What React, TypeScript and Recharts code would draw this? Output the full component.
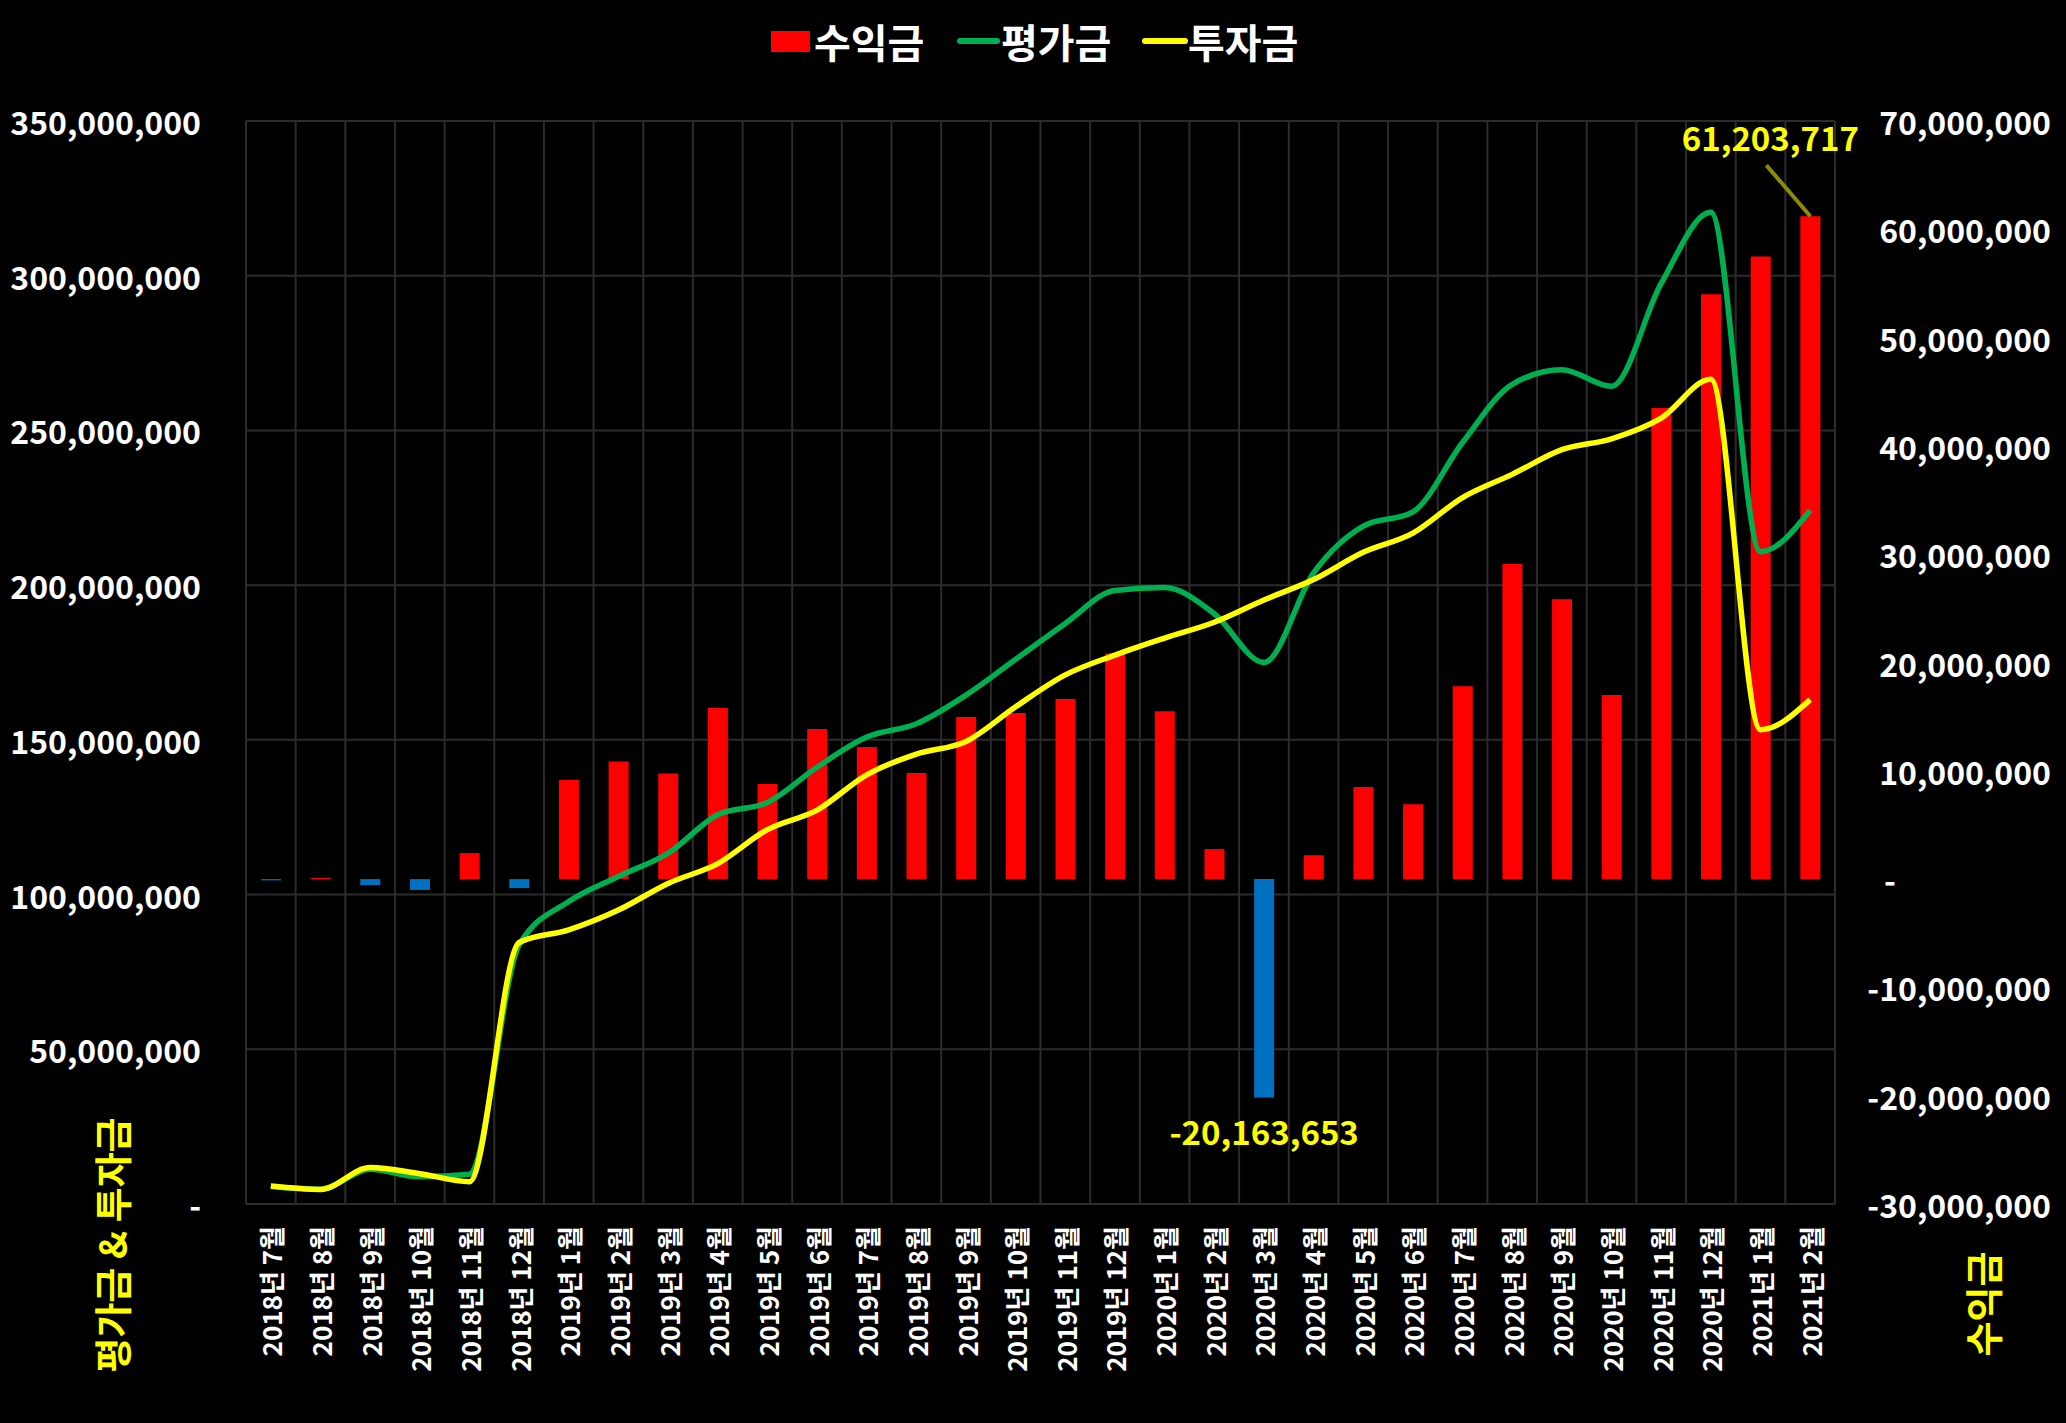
import { ComposedChart, Bar, Line, XAxis, YAxis, CartesianGrid, Cell, LabelList } from 'recharts'

const months = [
  '2018년 7월', '2018년 8월', '2018년 9월', '2018년 10월', '2018년 11월', '2018년 12월',
  '2019년 1월', '2019년 2월', '2019년 3월', '2019년 4월', '2019년 5월', '2019년 6월',
  '2019년 7월', '2019년 8월', '2019년 9월', '2019년 10월', '2019년 11월', '2019년 12월',
  '2020년 1월', '2020년 2월', '2020년 3월', '2020년 4월', '2020년 5월', '2020년 6월',
  '2020년 7월', '2020년 8월', '2020년 9월', '2020년 10월', '2020년 11월', '2020년 12월',
  '2021년 1월', '2021년 2월',
]

// 수익금 (right axis)
const profit = [
  -120000, 100000, -550000, -1000000, 2400000, -830000,
  9140000, 10850000, 9750000, 15800000, 8770000, 13850000,
  12190000, 9790000, 14960000, 15330000, 16620000, 20840000,
  15510000, 2770000, -20163653, 2200000, 8500000, 6900000,
  17800000, 29100000, 25850000, 16990000, 43500000, 54000000,
  57500000, 61203717,
]

// 평가금 (left axis)
const valuation = [
  5680000, 4800000, 11250000, 8800000, 9600000, 83670000,
  97740000, 105850000, 113350000, 125800000, 129770000, 141150000,
  150890000, 155190000, 164460000, 176030000, 187620000, 198300000,
  199200000, 190770000, 175036347, 204000000, 219100000, 223700000,
  246100000, 264900000, 269650000, 264290000, 297500000, 320500000,
  210800000, 224203717,
]

// 투자금 (left axis)
const invested = [
  5800000, 4700000, 11800000, 9800000, 7200000, 84500000,
  88600000, 95000000, 103600000, 110000000, 121000000, 127300000,
  138700000, 145400000, 149500000, 160700000, 171000000, 177400000,
  182900000, 188000000, 195200000, 201800000, 210600000, 216800000,
  228300000, 235800000, 243800000, 247300000, 254000000, 266500000,
  153300000, 163000000,
]

const leftTicks = [0, 50000000, 100000000, 150000000, 200000000, 250000000, 300000000, 350000000]
const rightTicks = [-30000000, -20000000, -10000000, 0, 10000000, 20000000, 30000000, 40000000, 50000000, 60000000, 70000000]

const data = months.map((month, i) => ({
  month,
  profit: profit[i],
  valuation: valuation[i],
  invested: invested[i],
}))

const maxIdx = profit.indexOf(Math.max(...profit))
const minIdx = profit.indexOf(Math.min(...profit))

const FONT = '"Noto Sans CJK KR", "Noto Sans", sans-serif'
const fmt = (v: number) => (v === 0 ? '-' : v.toLocaleString('en-US'))

function LeftTick({ x, y, payload }: any) {
  return (
    <text x={x} y={y} textAnchor="end" dominantBaseline="central"
      fill="#fff" fontSize={32} fontWeight={700} fontFamily={FONT}>
      {fmt(payload.value)}
    </text>
  )
}

function RightTick({ x, y, payload }: any) {
  const v = payload.value
  if (v === 0) {
    return (
      <text x={x + 5} y={y} textAnchor="start" dominantBaseline="central"
        fill="#fff" fontSize={32} fontWeight={700} fontFamily={FONT}>-</text>
    )
  }
  return (
    <text x={x + 172} y={y} textAnchor="end" dominantBaseline="central"
      fill="#fff" fontSize={32} fontWeight={700} fontFamily={FONT}>
      {fmt(v)}
    </text>
  )
}

function MonthTick({ x, y, payload }: any) {
  return (
    <text transform={`translate(${x},${y}) rotate(-90)`} textAnchor="end" dominantBaseline="central"
      fill="#fff" fontSize={26} fontWeight={700} fontFamily={FONT}>
      {payload.value}
    </text>
  )
}

function ProfitLabel(props: any) {
  const { x, y, width, height, index, value } = props
  if (index !== maxIdx && index !== minIdx) return null
  const cx = x + width / 2
  const top = Math.min(y, y + height)
  const bottom = Math.max(y, y + height)
  if (index === maxIdx) {
    return (
      <g>
        <line x1={cx} y1={top} x2={cx - 44} y2={top - 51} stroke="#8c8c00" strokeWidth={4} />
        <text x={cx - 40} y={top - 79} textAnchor="middle" dominantBaseline="central"
          fill="#ffff00" fontSize={33} fontWeight={700} fontFamily={FONT}>
          {fmt(value)}
        </text>
      </g>
    )
  }
  return (
    <text x={cx} y={bottom + 34} textAnchor="middle" dominantBaseline="central"
      fill="#ffff00" fontSize={33} fontWeight={700} fontFamily={FONT}>
      {fmt(value)}
    </text>
  )
}

const legendText = {
  position: 'absolute' as const, top: 17, color: '#fff', fontSize: 40, fontWeight: 700,
  fontFamily: FONT, lineHeight: '48px', whiteSpace: 'nowrap' as const,
}

const axisTitle = {
  position: 'absolute' as const, transform: 'translate(-50%,-50%) rotate(-90deg)',
  color: '#ffff00', fontSize: 38, fontWeight: 700, fontFamily: FONT, whiteSpace: 'nowrap' as const,
}

export default function App() {
  return (
    <div style={{ position: 'relative', width: 2066, height: 1423, background: '#000', overflow: 'hidden' }}>
      <style>{'body{margin:0;background:#000}'}</style>

      <span style={{ position: 'absolute', left: 771, top: 31, width: 39, height: 21, background: '#ff0000' }} />
      <span style={{ ...legendText, left: 814 }}>수익금</span>
      <span style={{ position: 'absolute', left: 957, top: 38, width: 43, height: 6, borderRadius: 3, background: '#00b050' }} />
      <span style={{ ...legendText, left: 1001 }}>평가금</span>
      <span style={{ position: 'absolute', left: 1142, top: 38, width: 46, height: 6, borderRadius: 3, background: '#ffff00' }} />
      <span style={{ ...legendText, left: 1188 }}>투자금</span>

      <ComposedChart width={2066} height={1423} data={data}
        margin={{ top: 121, right: 0, left: 0, bottom: 0 }}>
        <CartesianGrid yAxisId="left" stroke="#2c2c2c" strokeWidth={2}
          verticalCoordinatesGenerator={({ offset }: any) =>
            months.map((_, k) => offset.left + (k * offset.width) / months.length).concat(offset.left + offset.width)} />
        <XAxis dataKey="month" interval={0} height={219} tickSize={0} tickMargin={22}
          axisLine={false} tickLine={false} tick={<MonthTick />} />
        <YAxis yAxisId="left" orientation="left" width={246} domain={[0, 350000000]} ticks={leftTicks}
          tickSize={0} tickMargin={45} axisLine={false} tickLine={false} tick={<LeftTick />} />
        <YAxis yAxisId="right" orientation="right" width={231} domain={[-30000000, 70000000]} ticks={rightTicks}
          tickSize={0} tickMargin={44} axisLine={false} tickLine={false} tick={<RightTick />} />
        <Bar yAxisId="right" dataKey="profit" barSize={20} isAnimationActive={false}>
          {profit.map((v, i) => (
            <Cell key={i} fill={v >= 0 ? '#ff0000' : '#0070c0'} />
          ))}
          <LabelList dataKey="profit" content={<ProfitLabel />} />
        </Bar>
        <Line yAxisId="left" type="monotone" dataKey="valuation" stroke="#00b050" strokeWidth={5.5}
          dot={false} isAnimationActive={false} />
        <Line yAxisId="left" type="monotone" dataKey="invested" stroke="#ffff00" strokeWidth={5.5}
          dot={false} isAnimationActive={false} />
      </ComposedChart>

      <div style={{ ...axisTitle, left: 110, top: 1245 }}>평가금 &amp; 투자금</div>
      <div style={{ ...axisTitle, left: 1981, top: 1304 }}>수익금</div>
    </div>
  )
}
